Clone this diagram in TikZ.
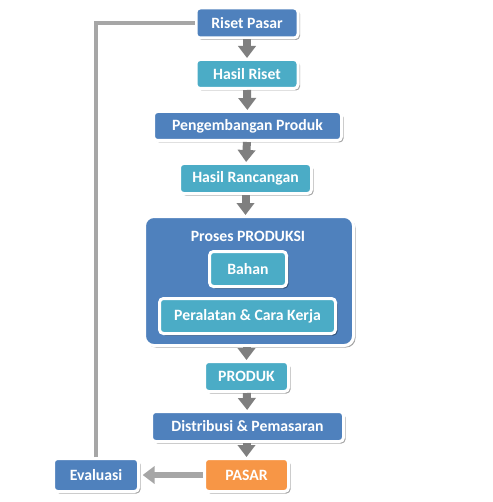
\documentclass[tikz,border=0pt]{standalone}
\usepackage{fontspec}
\setmainfont{Carlito}
\usetikzlibrary{arrows.meta,shadows}
\definecolor{boxblue}{RGB}{79,129,189}
\definecolor{boxteal}{RGB}{75,172,198}
\definecolor{boxorange}{RGB}{247,150,70}
\definecolor{flowgray}{RGB}{127,127,127}
\definecolor{loopgray}{RGB}{166,166,166}
\begin{document}
\begin{tikzpicture}[x=0.75pt,y=0.75pt,yscale=-1,xscale=1,
  stepbox/.style={draw=white, line width=2.25pt, rounded corners=3pt, text=white,
    font=\fontsize{11.8}{13}\selectfont\bfseries, inner sep=0pt,
    drop shadow={shadow xshift=1.5pt, shadow yshift=-1.5pt, opacity=0.35, fill=black}},
  bluebox/.style={stepbox, fill=boxblue},
  tealbox/.style={stepbox, fill=boxteal},
  flow/.style={flowgray, line width=6pt, -{Triangle[width=13pt,length=9pt]}},
  back/.style={loopgray, line width=5pt, -{Triangle[width=13pt,length=9pt]}}]
\useasboundingbox (0,0) rectangle (492,502);

% Boxes
\node [bluebox, minimum width=76.5pt, minimum height=22.5pt] (riset) at (247,23) {Riset Pasar};
\node [tealbox, minimum width=76.5pt, minimum height=21.75pt] (hasil) at (247,74) {Hasil Riset};
\node [bluebox, minimum width=141pt, minimum height=21.75pt] (kembang) at (247.5,126) {Pengembangan Produk};
\node [tealbox, minimum width=99pt, minimum height=22.5pt] (rancang) at (245.5,178.5) {Hasil Rancangan};
% Proses box
\node [bluebox, rounded corners=7pt, minimum width=156.75pt, minimum height=96.75pt] (proses) at (249,281) {};
\node [text=white, font=\fontsize{11.8}{13}\selectfont\bfseries] (prosestitle) at (248,236) {Proses PRODUKSI};
\node [tealbox, minimum width=57.75pt, minimum height=26.25pt] (bahan) at (248,269) {Bahan};
\node [tealbox, minimum width=132pt, minimum height=26.25pt] (alat) at (247.5,316) {Peralatan \& Cara Kerja};
% Lower boxes
\node [tealbox, minimum width=63pt, minimum height=22.5pt] (produk) at (246.5,376.5) {PRODUK};
\node [bluebox, minimum width=144pt, minimum height=22.5pt] (distribusi) at (247.5,426.5) {Distribusi \& Pemasaran};
\node [stepbox, fill=boxorange, minimum width=63pt, minimum height=24.75pt] (pasar) at (246.5,475) {PASAR};
\node [bluebox, minimum width=63.75pt, minimum height=24.75pt] (evaluasi) at (96,475) {Evaluasi};

% Arrows
\draw [flow] (riset) -- (hasil);
\draw [flow] (hasil) -- (kembang);
\draw [flow] (kembang) -- (rancang);
\draw [flow] (rancang.south) -- (rancang.south |- proses.north);
\draw [flow] (proses.south -| produk) -- (produk);
\draw [flow] (produk) -- (distribusi);
\draw [flow] (distribusi.south -| pasar) -- (pasar);
\draw [back, shorten >=2pt] (pasar) -- (evaluasi);
\draw [loopgray, line width=3pt] (evaluasi.north) |- (riset.west);

\end{tikzpicture}
\end{document}
